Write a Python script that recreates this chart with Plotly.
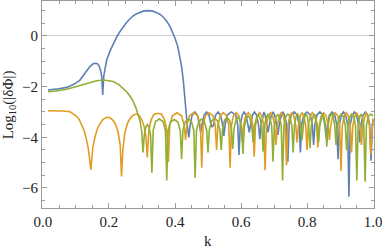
import plotly.graph_objects as go

# ---- data ----
blue_k = [0.015, 0.04, 0.072, 0.095, 0.112, 0.128, 0.142, 0.152, 0.158, 0.165, 0.17, 0.175, 0.178, 0.181,
          0.184, 0.188, 0.193, 0.203, 0.213, 0.223, 0.233, 0.243, 0.253, 0.263, 0.273, 0.284, 0.294, 0.306,
          0.319, 0.332, 0.345, 0.355, 0.365, 0.375, 0.385, 0.393, 0.40, 0.408, 0.415, 0.42, 0.425, 0.43,
          0.433, 0.437, 0.442,
          0.446, 0.452, 0.46, 0.468, 0.474, 0.478,
          0.482, 0.488, 0.4955, 0.503, 0.509, 0.513,
          0.517, 0.523, 0.5305, 0.538, 0.544, 0.548,
          0.552, 0.558, 0.571, 0.584, 0.590, 0.594,
          0.598, 0.604, 0.6095, 0.615, 0.621, 0.625,
          0.629, 0.635, 0.641, 0.647, 0.653, 0.657,
          0.661, 0.666, 0.6695, 0.673, 0.678, 0.682,
          0.686, 0.692, 0.697, 0.702, 0.708, 0.712,
          0.716, 0.722, 0.727, 0.732, 0.738, 0.742,
          0.746, 0.752, 0.761, 0.770, 0.776, 0.78,
          0.784, 0.790, 0.80, 0.81, 0.816, 0.82,
          0.824, 0.830, 0.839, 0.848, 0.854, 0.858,
          0.862, 0.868, 0.876, 0.884, 0.890, 0.894,
          0.898, 0.904, 0.9105, 0.917, 0.923, 0.927,
          0.931, 0.937, 0.9435, 0.95, 0.956, 0.96,
          0.964, 0.970, 0.977, 0.984, 0.990, 0.994,
          0.998, 1.0]
blue_y = [-2.13, -2.1, -2.03, -1.9, -1.74, -1.45, -1.21, -1.1, -1.08, -1.1, -1.18, -1.38, -1.6, -2.33,
          -1.6, -1.3, -0.95, -0.6, -0.29, -0.05, 0.17, 0.36, 0.53, 0.67, 0.79, 0.88, 0.94, 0.99,
          1.0, 0.98, 0.92, 0.85, 0.74, 0.58, 0.37, 0.15, -0.09, -0.4, -0.82, -1.2, -1.74, -2.53,
          -3.05, -3.5, -4.0,
          -3.5, -3.12, -3.0, -3.12, -3.5, -3.8,
          -3.5, -3.12, -3.0, -3.12, -3.5, -3.6,
          -3.5, -3.12, -3.0, -3.12, -3.5, -3.94,
          -3.5, -3.12, -3.0, -3.12, -3.5, -4.7,
          -3.5, -3.12, -3.0, -3.12, -3.5, -3.8,
          -3.5, -3.12, -3.0, -3.12, -3.5, -4.07,
          -3.5, -3.12, -3.0, -3.12, -3.5, -3.8,
          -3.5, -3.12, -3.0, -3.12, -3.5, -3.9,
          -3.5, -3.12, -3.0, -3.12, -3.5, -4.96,
          -3.5, -3.12, -3.0, -3.12, -3.5, -4.6,
          -3.5, -3.12, -3.0, -3.12, -3.5, -4.3,
          -3.5, -3.12, -3.0, -3.12, -3.5, -4.0,
          -3.5, -3.12, -3.0, -3.12, -3.5, -4.86,
          -3.5, -3.12, -3.0, -3.12, -3.5, -6.35,
          -3.5, -3.12, -3.0, -3.12, -3.5, -4.2,
          -3.5, -3.12, -3.0, -3.12, -3.5, -4.92,
          -3.5, -3.3]

orange_k = [0.015, 0.04, 0.06, 0.082, 0.1, 0.11, 0.117, 0.125, 0.132, 0.138, 0.145, 0.151, 0.158, 0.165,
            0.173, 0.183, 0.193, 0.203, 0.213, 0.221, 0.228, 0.234, 0.238, 0.242, 0.248, 0.256, 0.264,
            0.274, 0.284, 0.292, 0.299, 0.306, 0.312, 0.316, 0.321, 0.328, 0.336, 0.348, 0.36, 0.368,
            0.375, 0.38,
            0.384, 0.392, 0.406, 0.42, 0.428, 0.432,
            0.436, 0.444, 0.4565, 0.469, 0.477, 0.481,
            0.485, 0.492, 0.5035, 0.515, 0.522, 0.526,
            0.53, 0.537, 0.5465, 0.556, 0.563, 0.567,
            0.571, 0.577, 0.5855, 0.594, 0.6, 0.604,
            0.608, 0.614, 0.622, 0.63, 0.636, 0.64,
            0.644, 0.65, 0.6565, 0.663, 0.669, 0.673,
            0.677, 0.683, 0.6895, 0.696, 0.702, 0.706,
            0.71, 0.716, 0.722, 0.728, 0.734, 0.738,
            0.742, 0.748, 0.754, 0.76, 0.766, 0.77,
            0.774, 0.78, 0.785, 0.79, 0.796, 0.80,
            0.804, 0.81, 0.8165, 0.823, 0.829, 0.833,
            0.837, 0.843, 0.8505, 0.858, 0.864, 0.868,
            0.872, 0.878, 0.8855, 0.893, 0.899, 0.903,
            0.907, 0.913, 0.919, 0.925, 0.931, 0.935,
            0.939, 0.945, 0.95, 0.955, 0.961, 0.965,
            0.969, 0.975, 0.979, 0.983, 0.989, 0.993,
            0.997, 1.0]
orange_y = [-2.95, -2.95, -2.96, -2.99, -3.15, -3.3, -3.5, -3.75, -4.1, -4.5, -5.29, -4.4, -3.97, -3.65,
            -3.45, -3.28, -3.21, -3.23, -3.34, -3.52, -3.83, -4.3, -5.55, -4.5, -3.83, -3.45, -3.25,
            -3.12, -3.08, -3.14, -3.3, -3.55, -3.95, -4.79, -3.7, -3.3, -3.1, -3.05, -3.1, -3.3,
            -3.7, -4.97,
            -3.53, -3.15, -3.03, -3.15, -3.53, -4.1,
            -3.53, -3.15, -3.03, -3.15, -3.53, -5.2,
            -3.53, -3.15, -3.03, -3.15, -3.53, -4.5,
            -3.53, -3.15, -3.03, -3.15, -3.53, -5.2,
            -3.53, -3.15, -3.03, -3.15, -3.53, -4.2,
            -3.53, -3.15, -3.03, -3.15, -3.53, -4.77,
            -3.53, -3.15, -3.03, -3.15, -3.53, -5.3,
            -3.53, -3.15, -3.03, -3.15, -3.53, -4.3,
            -3.53, -3.15, -3.03, -3.15, -3.53, -5.1,
            -3.53, -3.15, -3.03, -3.15, -3.53, -4.2,
            -3.53, -3.15, -3.03, -3.15, -3.53, -4.5,
            -3.53, -3.15, -3.03, -3.15, -3.53, -4.4,
            -3.53, -3.15, -3.03, -3.15, -3.53, -4.1,
            -3.53, -3.15, -3.03, -3.15, -3.53, -5.33,
            -3.53, -3.15, -3.03, -3.15, -3.53, -4.6,
            -3.53, -3.15, -3.03, -3.15, -3.53, -4.3,
            -3.53, -3.15, -3.03, -3.15, -3.53, -4.7,
            -3.53, -3.25]

green_k = [0.015, 0.04, 0.072, 0.1, 0.122, 0.145, 0.163, 0.183, 0.2, 0.213, 0.23, 0.243, 0.255, 0.265,
           0.274, 0.282, 0.289, 0.294, 0.299, 0.303,
           0.307, 0.312, 0.3165, 0.321, 0.326, 0.33,
           0.334, 0.341, 0.3525, 0.364, 0.371, 0.375,
           0.379, 0.386, 0.3975, 0.409, 0.416, 0.42,
           0.424, 0.431, 0.4405, 0.45, 0.457, 0.461,
           0.465, 0.472, 0.4805, 0.489, 0.496, 0.50,
           0.504, 0.511, 0.52, 0.529, 0.536, 0.54,
           0.544, 0.55, 0.5575, 0.565, 0.571, 0.575,
           0.579, 0.585, 0.5905, 0.596, 0.602, 0.606,
           0.61, 0.616, 0.6215, 0.627, 0.633, 0.637,
           0.641, 0.647, 0.652, 0.657, 0.663, 0.667,
           0.671, 0.677, 0.682, 0.687, 0.693, 0.697,
           0.701, 0.706, 0.7115, 0.717, 0.722, 0.726,
           0.73, 0.736, 0.742, 0.748, 0.754, 0.758,
           0.762, 0.767, 0.7715, 0.776, 0.781, 0.785,
           0.789, 0.793, 0.797, 0.801, 0.805, 0.809,
           0.813, 0.818, 0.822, 0.826, 0.831, 0.835,
           0.839, 0.844, 0.8475, 0.851, 0.856, 0.86,
           0.864, 0.869, 0.874, 0.879, 0.884, 0.888,
           0.892, 0.898, 0.904, 0.91, 0.916, 0.92,
           0.924, 0.93, 0.9355, 0.941, 0.947, 0.951,
           0.955, 0.96, 0.9635, 0.967, 0.972, 0.976,
           0.98, 0.986, 0.993, 1.0]
green_y = [-2.2, -2.17, -2.1, -2.0, -1.9, -1.82, -1.77, -1.74, -1.76, -1.8, -1.92, -2.06, -2.22, -2.4,
           -2.6, -2.85, -3.1, -3.35, -3.75, -4.6,
           -3.9, -3.58, -3.5, -3.58, -3.9, -5.4,
           -3.73, -3.38, -3.28, -3.38, -3.73, -5.7,
           -3.75, -3.4, -3.3, -3.4, -3.75, -4.86,
           -3.73, -3.38, -3.28, -3.38, -3.73, -5.6,
           -3.73, -3.38, -3.28, -3.38, -3.73, -4.6,
           -3.7, -3.35, -3.25, -3.35, -3.7, -4.5,
           -3.67, -3.32, -3.22, -3.32, -3.67, -4.46,
           -3.65, -3.3, -3.2, -3.3, -3.65, -4.66,
           -3.6, -3.25, -3.15, -3.25, -3.6, -4.2,
           -3.57, -3.22, -3.12, -3.22, -3.57, -4.57,
           -3.55, -3.2, -3.1, -3.2, -3.55, -4.96,
           -3.55, -3.2, -3.1, -3.2, -3.55, -5.7,
           -3.53, -3.18, -3.08, -3.18, -3.53, -4.6,
           -3.53, -3.18, -3.08, -3.18, -3.53, -4.1,
           -3.53, -3.18, -3.08, -3.18, -3.53, -4.43,
           -3.53, -3.18, -3.08, -3.18, -3.53, -4.2,
           -3.53, -3.18, -3.08, -3.18, -3.53, -4.37,
           -3.53, -3.18, -3.08, -3.18, -3.53, -4.3,
           -3.53, -3.18, -3.08, -3.18, -3.53, -4.5,
           -3.53, -3.18, -3.08, -3.18, -3.53, -5.7,
           -3.53, -3.18, -3.08, -3.18, -3.53, -5.75,
           -3.53, -3.18, -3.08, -3.15]

x_ticks = [0.0, 0.2, 0.4, 0.6, 0.8, 1.0]
x_tick_labels = ["0.0", "0.2", "0.4", "0.6", "0.8", "1.0"]
y_ticks = [0, -2, -4, -6]
y_tick_labels = ["0", "\u22122", "\u22124", "\u22126"]
x_title = "k"
y_title = "Log<sub>10</sub>(|\u03b4\u03a6|)"

# ---- figure ----
BLUE = "#5E81B5"
ORANGE = "#E19C24"
GREEN = "#8FB032"

fig = go.Figure()
for kk, yy, col in [(blue_k, blue_y, BLUE), (orange_k, orange_y, ORANGE), (green_k, green_y, GREEN)]:
    fig.add_trace(go.Scatter(x=kk, y=yy, mode="lines",
                             line=dict(color=col, width=1.6),
                             hoverinfo="skip", showlegend=False))

SERIF = "Liberation Serif"
axis_common = dict(
    showgrid=False, showline=True, linecolor="#9a9a9a", linewidth=1,
    mirror="allticks", ticks="inside", ticklen=5, tickcolor="#9a9a9a", tickwidth=1,
    tickfont=dict(family=SERIF, size=15, color="#222"),
    automargin=False, ticklabeloverflow="allow",
)
fig.update_layout(
    width=382, height=248,
    margin=dict(l=42, r=8, t=1, b=40),
    paper_bgcolor="white", plot_bgcolor="white",
    font=dict(family=SERIF, size=15, color="#222"),
    xaxis=dict(range=[-0.003, 1.003], tickvals=x_ticks, ticktext=x_tick_labels,
               minor=dict(dtick=0.05, ticklen=3, tickcolor="#9a9a9a", ticks="inside"),
               zeroline=False, **axis_common),
    yaxis=dict(range=[-6.79, 1.38], tickvals=y_ticks, ticktext=y_tick_labels,
               minor=dict(dtick=0.5, ticklen=3, tickcolor="#9a9a9a", ticks="inside"),
               zeroline=True, zerolinecolor="#d0d0d0", zerolinewidth=1,
               **axis_common),
    annotations=[
        dict(text=x_title, xref="paper", yref="paper", x=0.5, y=-0.112,
             xanchor="center", yanchor="top", showarrow=False,
             font=dict(family=SERIF, size=15, color="#222")),
        dict(text=y_title, xref="paper", yref="paper", x=-0.1, y=0.5,
             xanchor="center", yanchor="middle", textangle=-90, showarrow=False,
             font=dict(family=SERIF, size=15, color="#222")),
    ],
)

fig.write_html("out.html", config={"displayModeBar": False},
               post_script="document.body.style.margin='0';document.body.style.overflow='hidden';")
